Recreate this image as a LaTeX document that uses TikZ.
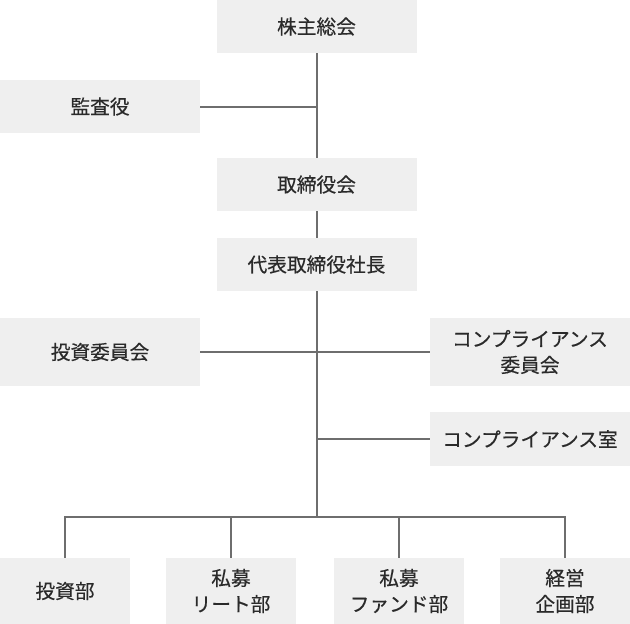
\documentclass[tikz,border=0pt]{standalone}
\usepackage{fontspec}
\setmainfont{Noto Sans CJK JP}[FakeBold=0.4]
\definecolor{boxfill}{HTML}{EFEFEF}
\definecolor{linecol}{HTML}{6E6E6E}
\definecolor{txtcol}{HTML}{2A2A2A}
\begin{document}
\begin{tikzpicture}[x=1pt,y=-1pt,
  box/.style={fill=boxfill, draw=none, inner sep=0pt, align=center, text=txtcol,
    font=\fontsize{19.7}{26}\selectfont, minimum width=200pt},
  small/.style={box, minimum width=130pt, minimum height=66pt},
  conn/.style={draw=linecol, line width=2pt}]
\useasboundingbox (0,0) rectangle (630,624);
\node[box, minimum height=53pt] (kabu) at (316.5,26.5) {株主総会};
\node[box, minimum height=53pt] (kansa) at (100,106.5) {監査役};
\node[box, minimum height=53pt] (tori) at (316.5,184.5) {取締役会};
\node[box, minimum height=53pt] (daihyo) at (316.5,264.5) {代表取締役社長};
\node[box, minimum height=68pt] (tiin) at (100,352) {投資委員会};
\node[box, minimum height=68pt] (ciin) at (530,352) {コンプライアンス\\委員会};
\node[box, minimum height=54pt] (cshitsu) at (530,439) {コンプライアンス室};
\node[small] (b1) at (65,591) {投資部};
\node[small] (b2) at (231,591) {私募\\リート部};
\node[small] (b3) at (399,591) {私募\\ファンド部};
\node[small] (b4) at (565,591) {経営\\企画部};
\coordinate (bus) at (316.5,517);
\draw[conn] (kabu.south) -- (tori.north);
\draw[conn] (kansa.east) -- (kansa.east -| kabu.south);
\draw[conn] (tori.south) -- (daihyo.north);
\draw[conn] (daihyo.south) -- (bus);
\draw[conn] (tiin.east) -- (ciin.west);
\draw[conn] (cshitsu.west) -- (cshitsu.west -| daihyo.south);
\draw[conn] (b1.north) -- (b1.north |- bus) -- (b4.north |- bus) -- (b4.north);
\draw[conn] (b2.north) -- (b2.north |- bus);
\draw[conn] (b3.north) -- (b3.north |- bus);
\end{tikzpicture}
\end{document}
